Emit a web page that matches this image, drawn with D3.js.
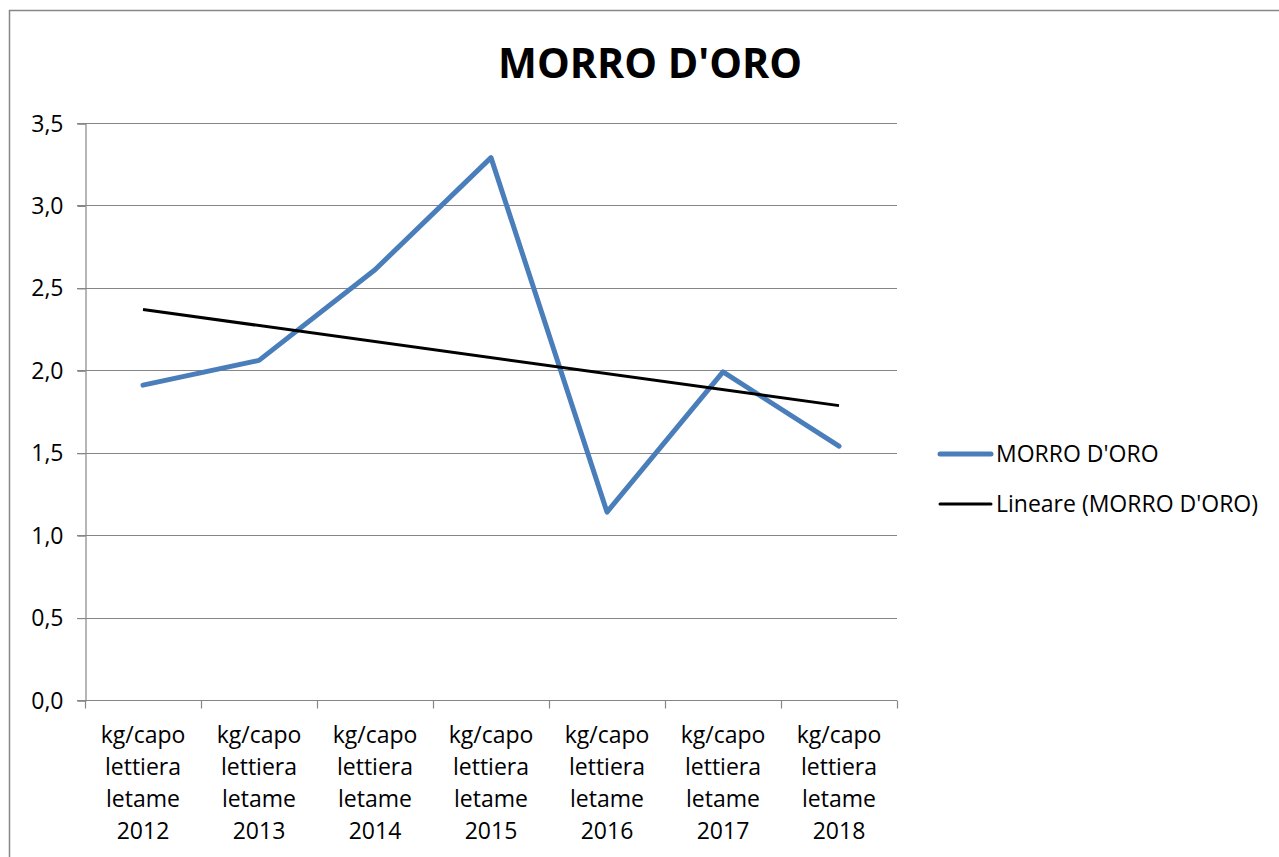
<!DOCTYPE html>
<html lang="it">
<head>
<meta charset="UTF-8">
<title>MORRO D'ORO</title>
<script src="https://d3js.org/d3.v7.min.js"></script>
<style>
  body { margin: 0; background: #fff; }
  svg text { font-family: "Open Sans", Lato, sans-serif; fill: #000; font-variant-ligatures: none; }
</style>
</head>
<body>
<div id="chart"></div>
<script>
// dati
const anni = ["2012", "2013", "2014", "2015", "2016", "2017", "2018"];
const etichetta = ["kg/capo", "lettiera", "letame"];
const valori = [1.91, 2.06, 2.61, 3.29, 1.14, 1.99, 1.54];
const yTicks = [0, 0.5, 1, 1.5, 2, 2.5, 3, 3.5];
const serieNome = "MORRO D'ORO";
const trendNome = "Lineare (MORRO D'ORO)";

const W = 1279, H = 857;
const plot = { left: 85, right: 897, top: 123, bottom: 700 };
const fs = 23;

const svg = d3.select("#chart").append("svg")
  .attr("width", W).attr("height", H);

// cornice del grafico
svg.append("rect")
  .attr("x", 9.5).attr("y", 10.5)
  .attr("width", W + 20).attr("height", H + 20)
  .attr("fill", "#fff").attr("stroke", "#868686").attr("stroke-width", 1.5);

const x = d3.scaleBand().domain(anni).range([plot.left, plot.right]);
const y = d3.scaleLinear().domain([0, 3.5]).range([plot.bottom, plot.top]);

// griglia orizzontale
svg.append("g")
  .selectAll("line").data(yTicks.slice(1)).join("line")
  .attr("x1", plot.left - 8).attr("x2", plot.right)
  .attr("y1", d => Math.round(y(d)) + 0.5).attr("y2", d => Math.round(y(d)) + 0.5)
  .attr("stroke", "#868686").attr("stroke-width", 1.2);

// asse y
const fmt = d => d3.format(".1f")(d).replace(".", ",");
const yAx = svg.append("g")
  .attr("transform", `translate(${plot.left + 0.5},0.5)`)
  .call(d3.axisLeft(y).tickValues(yTicks).tickFormat(fmt).tickSize(8).tickPadding(14));
yAx.select(".domain").attr("stroke", "#868686").attr("stroke-width", 1.2);
yAx.selectAll(".tick line").attr("stroke", "#868686").attr("stroke-width", 1.2);
yAx.selectAll(".tick text").attr("font-size", fs).attr("fill", "#000").attr("dy", "0.33em");

// asse x
const xAx = svg.append("g")
  .attr("transform", `translate(0,${plot.bottom + 0.5})`);
xAx.append("line")
  .attr("x1", plot.left - 8).attr("x2", plot.right)
  .attr("stroke", "#868686").attr("stroke-width", 1.2);
const bordi = anni.map(a => x(a)).concat([x(anni[anni.length - 1]) + x.bandwidth()]);
xAx.selectAll("line.tk").data(bordi).join("line")
  .attr("class", "tk")
  .attr("x1", d => Math.round(d) + 0.5).attr("x2", d => Math.round(d) + 0.5)
  .attr("y1", 0).attr("y2", 8)
  .attr("stroke", "#868686").attr("stroke-width", 1.2);
const lab = xAx.selectAll("text").data(anni).join("text")
  .attr("text-anchor", "middle")
  .attr("font-size", fs)
  .attr("x", d => x(d) + x.bandwidth() / 2);
lab.each(function (d) {
  const t = d3.select(this);
  etichetta.concat([d]).forEach((r, i) => {
    t.append("tspan").attr("x", x(d) + x.bandwidth() / 2).attr("y", 42 + i * 32.3).text(r);
  });
});

// serie
const cx = (d, i) => x(anni[i]) + x.bandwidth() / 2;
svg.append("path")
  .datum(valori)
  .attr("fill", "none")
  .attr("stroke", "#4a7ebb")
  .attr("stroke-width", 5)
  .attr("stroke-linejoin", "round")
  .attr("stroke-linecap", "round")
  .attr("d", d3.line().x(cx).y(d => y(d)));

// linea di tendenza (minimi quadrati)
const n = valori.length;
const mx = d3.mean(valori, (d, i) => i);
const my = d3.mean(valori);
const b = d3.sum(valori, (d, i) => (i - mx) * (d - my)) / d3.sum(valori, (d, i) => (i - mx) * (i - mx));
const a = my - b * mx;
const trend = [0, n - 1].map(i => ({ i, v: a + b * i }));
svg.append("path")
  .datum(trend)
  .attr("fill", "none")
  .attr("stroke", "#000")
  .attr("stroke-width", 3)
  .attr("d", d3.line().x(d => x(anni[d.i]) + x.bandwidth() / 2).y(d => y(d.v)));

// titolo
svg.append("text")
  .attr("x", 650).attr("y", 78)
  .attr("text-anchor", "middle")
  .attr("font-size", 41).attr("font-weight", "bold")
  .attr("textLength", 304).attr("lengthAdjust", "spacingAndGlyphs")
  .text(serieNome);

// legenda
const leg = [
  { nome: serieNome, col: "#4a7ebb", w: 5, cap: "round" },
  { nome: trendNome, col: "#000", w: 3, cap: "round" }
];
const lg = svg.append("g").selectAll("g").data(leg).join("g")
  .attr("transform", (d, i) => `translate(940,${454 + i * 50})`);
lg.append("line")
  .attr("x1", 0).attr("x2", 51)
  .attr("stroke", d => d.col).attr("stroke-width", d => d.w).attr("stroke-linecap", d => d.cap);
lg.append("text")
  .attr("x", 56).attr("dy", "0.35em")
  .attr("font-size", fs)
  .text(d => d.nome);
</script>
</body>
</html>
